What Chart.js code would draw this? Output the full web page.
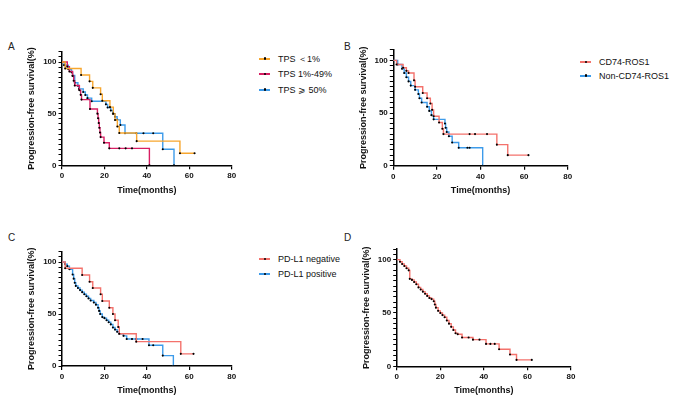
<!DOCTYPE html>
<html>
<head>
<meta charset="utf-8">
<script src="https://cdn.jsdelivr.net/npm/chart.js@4.4.1/dist/chart.umd.min.js"></script>
<style>
  html, body { margin: 0; padding: 0; background: #fff; }
  body { width: 692px; height: 414px; position: relative; overflow: hidden; font-family: "Liberation Sans", Arial, sans-serif; }
  canvas { position: absolute; }
  .lbl { position: absolute; font-size: 10px; color: #222; }
  .leg { position: absolute; font-size: 9px; color: #111; white-space: nowrap; line-height: 10px; }
  .leg .ln { position: absolute; left: 0; top: 4px; width: 11px; height: 2px; }
  .leg .dt { position: absolute; left: 4.5px; top: 3.9px; width: 2.2px; height: 2.2px; background: #000; border-radius: 50%; }
  .leg .tx { position: absolute; left: 19px; top: 0; }
</style>
</head>
<body>
<canvas id="cA"></canvas>
<canvas id="cB"></canvas>
<canvas id="cC"></canvas>
<canvas id="cD"></canvas>
<div class="lbl" style="left:8px;top:41px;">A</div>
<div class="lbl" style="left:344px;top:41px;">B</div>
<div class="lbl" style="left:8px;top:232px;">C</div>
<div class="lbl" style="left:344px;top:232px;">D</div>
<div id="legends"></div>
<script>
// ---------- tick values ----------
const xTicks = [0, 20, 40, 60, 80];
const yLabelTicks = [0, 50, 100];

// ---------- Panel A: TPS ----------
const tpsLowTime   = [0, 1.5, 9, 13, 14.5, 18.2, 19, 22.6, 24.2, 25, 26.1, 27, 35.2, 55.6, 62.5];
const tpsLowSurv   = [100, 93.8, 87.5, 81.3, 75, 68.8, 62.5, 56.3, 50, 43.8, 37.5, 31.3, 23.4, 11.7, 11.7];
const tpsMidTime   = [0, 2.5, 3.5, 5, 5.5, 6, 8.2, 8.8, 9.2, 13.2, 16.7, 17, 17.3, 17.6, 17.9, 18.2, 19.8, 22.3, 27, 30, 33, 41.2];
const tpsMidSurv   = [100, 95.5, 90.9, 86.4, 81.8, 77.3, 72.7, 68.2, 63.6, 54.5, 50, 45.5, 40.9, 36.4, 31.8, 27.3, 21.8, 16.4, 16.4, 16.4, 16.4, 0];
const tpsHighTime  = [0, 1, 3, 4.5, 5, 6, 7.5, 8, 10, 11, 12, 14, 20.7, 21.5, 23, 24, 25, 26, 27.5, 29.7, 35, 38.4, 43, 47.5, 52.8];
const tpsHighSurv  = [100, 97, 93, 90, 87, 80, 77, 74, 71, 68, 65, 62, 59, 56, 53, 50, 47, 44, 39, 31, 31, 31, 31, 15.5, 0];
const tpsNames     = ["TPS \uFF1C1%", "TPS 1%-49%", "TPS \u2A7E 50%"];

// ---------- Panel B: fusion partner ----------
const cd74Time     = [0, 1.5, 4.5, 6, 7, 9.5, 10, 13.5, 15.5, 17, 17.8, 18.5, 21, 22.5, 23, 35, 37.5, 43, 47.5, 52.5, 62];
const cd74Surv     = [100, 96, 93, 90, 88, 81, 75, 69, 64, 59, 53, 47, 41, 35, 30, 30, 30, 30, 20, 10, 10];
const nonCd74Time  = [0, 2, 4, 5, 6, 7, 8, 10, 11.5, 12, 13, 15.5, 16.5, 17.5, 18.5, 23.7, 24, 24.5, 25.5, 27, 30, 34, 35, 41];
const nonCd74Surv  = [100, 96, 92, 88, 84, 80, 76, 72, 68, 64, 60, 56, 52, 48, 44, 40, 36, 32, 28, 22, 17, 17, 17, 0];
const fusionNames  = ["CD74-ROS1", "Non-CD74-ROS1"];

// ---------- Panel C: PD-L1 ----------
const pdNegTime    = [0, 1.5, 9.5, 13, 14.5, 18.2, 19, 22.3, 24, 25, 26.5, 27, 35, 56, 62];
const pdNegSurv    = [100, 94, 87.5, 81, 75, 69, 62.5, 56, 50, 44, 37.5, 31, 23.4, 11.7, 11.7];
const pdPosTime    = [0, 1.5, 2.5, 3.5, 5, 5.5, 6, 6.5, 7.5, 8.5, 9.5, 10.5, 11.5, 12.5, 13.5, 15, 16, 17, 17.5, 18, 19, 20, 21, 22, 23, 24, 25, 26, 27, 29, 30.5, 33, 35, 38, 41, 43, 47.5, 52.5];
const pdPosSurv    = [100, 98, 96, 93, 88, 84, 80, 77, 75, 73, 71, 69, 67, 65, 63, 61, 59, 56, 53, 50, 47, 46, 44, 42, 40, 37, 35, 33, 31, 29, 26, 26, 26, 26, 20, 20, 10, 0];
const pdNames      = ["PD-L1 negative", "PD-L1 positive"];

// ---------- Panel D: all patients ----------
const allTime      = [0, 1.5, 2.5, 3.5, 4.5, 5.5, 6, 7, 8, 9, 10, 11, 12, 13, 14, 15, 16, 17, 17.5, 18, 19, 20, 21, 22, 23, 24, 25, 26, 27, 28, 30, 33, 35, 38, 41, 43, 45, 47, 52, 55, 62];
const allSurv      = [100, 98, 96, 94, 92, 90, 82, 81, 79, 77, 74, 72, 70, 68, 66, 64, 63, 61, 58, 55, 52, 50, 48, 46, 43, 40, 37, 34, 31, 30, 27, 27, 25, 25, 21, 21, 21, 16, 11, 6, 6];

// ---------- styling ----------
const ORANGE = '#F7A62E', MAGENTA = '#D81E63', BLUE = '#3D9BEA', SALMON = '#F4726C';
const FONT = '"Liberation Sans", Arial, sans-serif';

function pts(t, s) { return t.map((v, i) => ({ x: v, y: s[i] })); }

function series(t, s, color) {
  return {
    data: pts(t, s),
    borderColor: color,
    backgroundColor: color,
    borderWidth: 1.4,
    stepped: true,
    fill: false,
    tension: 0,
    pointRadius: (ctx) => ctx.dataIndex === 0 ? 0 : 1.05,
    pointBackgroundColor: '#000',
    pointBorderWidth: 0,
    pointHoverRadius: 0
  };
}

function panel(id, box, area, datasets, xTitleCenterY, yTitleCenterX) {
  const cv = document.getElementById(id);
  cv.style.left = box.left + 'px';
  cv.style.top = box.top + 'px';
  cv.width = box.w; cv.height = box.h;
  cv.style.width = box.w + 'px'; cv.style.height = box.h + 'px';
  const yW = area.left - box.left;
  const xH = (box.top + box.h) - area.bottom;
  const xTitleFont = 9, yTitleFont = 9;
  const xPadBottom = (box.top + box.h) - xTitleCenterY - xTitleFont * 1.2 / 2;
  const yPadTop = (yTitleCenterX - box.left) - yTitleFont * 1.2 / 2;
  new Chart(cv, {
    type: 'line',
    data: { datasets },
    options: {
      responsive: false,
      animation: false,
      devicePixelRatio: 1,
      layout: { padding: { top: area.top - box.top, right: (box.left + box.w) - area.right, left: 0, bottom: 0 } },
      plugins: { legend: { display: false }, tooltip: { enabled: false } },
      events: [],
      scales: {
        x: {
          type: 'linear', min: 0, max: 80,
          afterBuildTicks: (sc) => { sc.ticks = xTicks.map(v => ({ value: v })); },
          afterFit: (sc) => { sc.height = xH; },
          border: { display: true, color: '#000', width: 1.5 },
          grid: { display: true, drawOnChartArea: false, drawTicks: true, tickLength: 4, color: '#000', lineWidth: 1.2 },
          ticks: { color: '#111', padding: 2, maxRotation: 0, autoSkip: false,
                   font: { family: FONT, size: 8, weight: 'bold' } },
          title: { display: true, text: 'Time(months)', color: '#111',
                   font: { family: FONT, size: xTitleFont, weight: 'bold' },
                   padding: { top: 0, bottom: xPadBottom } }
        },
        y: {
          type: 'linear', min: 0, max: 110,
          ticks: { stepSize: 5, autoSkip: false, color: '#111', padding: 2,
                   callback: (v) => yLabelTicks.includes(v) ? String(v) : '',
                   font: { family: FONT, size: 8, weight: 'bold' } },
          afterFit: (sc) => { sc.width = yW; },
          border: { display: true, color: '#000', width: 1.5 },
          grid: { display: true, drawOnChartArea: false, drawTicks: true, tickLength: 3.5, color: '#000', lineWidth: 1 },
          title: { display: true, text: 'Progression-free survival(%)', color: '#111',
                   font: { family: FONT, size: yTitleFont, weight: 'bold' },
                   padding: { top: yPadTop, bottom: 0 } }
        }
      }
    }
  });
}

panel('cA', { left: 20, top: 38, w: 225, h: 162 }, { left: 62, top: 51.7, right: 231.7, bottom: 165.3 },
  [series(tpsLowTime, tpsLowSurv, ORANGE), series(tpsMidTime, tpsMidSurv, MAGENTA), series(tpsHighTime, tpsHighSurv, BLUE)],
  190.5, 32);
panel('cB', { left: 355, top: 38, w: 225, h: 162 }, { left: 393.3, top: 49.8, right: 567.7, bottom: 165.7 },
  [series(cd74Time, cd74Surv, SALMON), series(nonCd74Time, nonCd74Surv, BLUE)],
  190.5, 363.5);
panel('cC', { left: 20, top: 230, w: 225, h: 170 }, { left: 62, top: 251.6, right: 231.7, bottom: 366 },
  [series(pdNegTime, pdNegSurv, SALMON), series(pdPosTime, pdPosSurv, BLUE)],
  391, 32);
panel('cD', { left: 355, top: 230, w: 225, h: 170 }, { left: 396.7, top: 249, right: 571, bottom: 366.3 },
  [series(allTime, allSurv, SALMON)],
  391, 366.7);

// ---------- legends (HTML text) ----------
function legend(x, y0, dy, names, colors) {
  const host = document.getElementById('legends');
  names.forEach((n, i) => {
    const d = document.createElement('div');
    d.className = 'leg';
    d.style.left = x + 'px';
    d.style.top = (y0 + i * dy - 5) + 'px';
    d.innerHTML = '<span class="ln" style="background:' + colors[i] + '"></span><span class="dt"></span><span class="tx"></span>';
    d.querySelector('.tx').textContent = n;
    host.appendChild(d);
  });
}
legend(259, 58.5, 15.5, tpsNames, [ORANGE, MAGENTA, BLUE]);
legend(580, 62, 13.5, fusionNames, [SALMON, BLUE]);
legend(259, 259, 14.7, pdNames, [SALMON, BLUE]);
</script>
</body>
</html>
